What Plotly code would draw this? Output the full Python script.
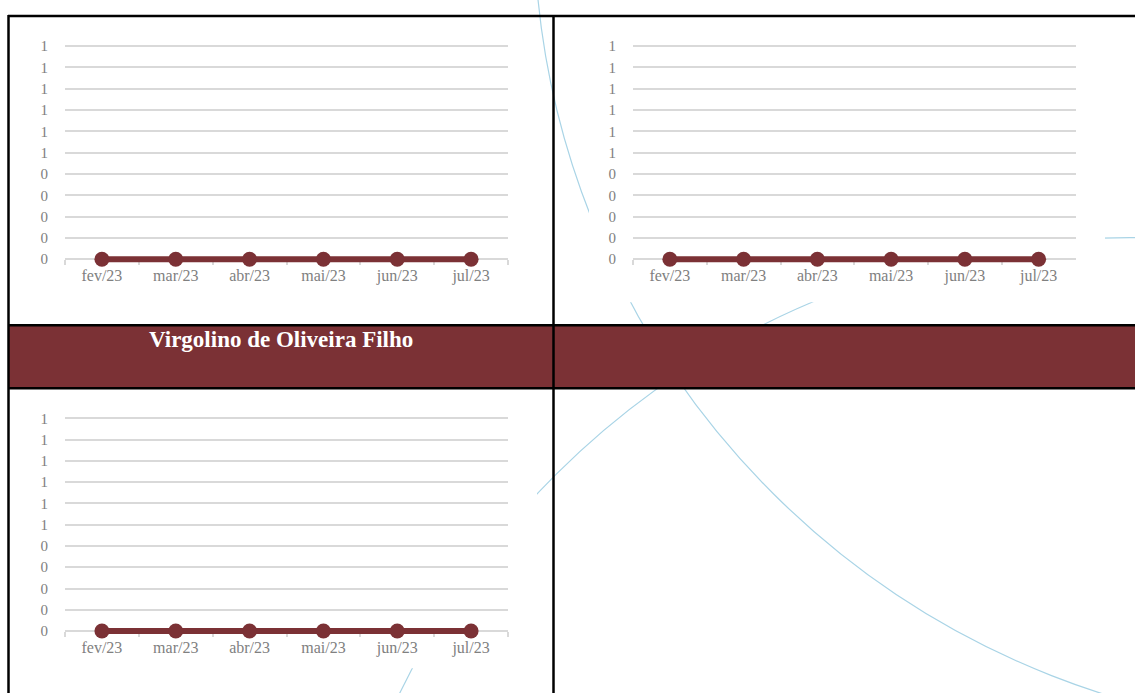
import plotly.graph_objects as go

W, H = 1135, 693

# chart data (Excel charts copied into a report table)
months = ["fev/23", "mar/23", "abr/23", "mai/23", "jun/23", "jul/23"]
serie_sup_esq = [0, 0, 0, 0, 0, 0]
serie_sup_dir = [0, 0, 0, 0, 0, 0]
serie_inf_esq = [0, 0, 0, 0, 0, 0]
y_tickvals = [0, 0.1, 0.2, 0.3, 0.4, 0.5, 0.6, 0.7, 0.8, 0.9, 1.0]
y_ticktext = ["0", "0", "0", "0", "0", "1", "1", "1", "1", "1", "1"]
banner_text = "Virgolino de Oliveira Filho"

VINHO = "#7B3135"
GRID = "#d9d9d9"
TXT = "#808080"
FONT = "Liberation Serif"


def px(x):
  return x / W


def py(y):
  return 1 - y / H


fig = go.Figure()

# (pixel box of each plot area: left, right, y of value 1, y of value 0)
charts = [
  (serie_sup_esq, (65, 508, 42.3, 256.7)),
  (serie_sup_dir, (633, 1075.5, 42.3, 256.7)),
  (serie_inf_esq, (65, 508, 416.7, 630.7)),
]

pad = 12  # extra px below zero so the thick line is not clipped
top_pad = 4  # keeps the gridline at 1 away from the plot edge
for i, (serie, (l, r, t, b)) in enumerate(charts, start=1):
  sfx = "" if i == 1 else str(i)
  unit = b - t
  fig.add_trace(go.Scatter(
    x=months, y=serie, mode="lines+markers",
    line=dict(color=VINHO, width=6),
    marker=dict(color=VINHO, size=15),
    cliponaxis=False, showlegend=False, hoverinfo="skip",
    xaxis="x" + sfx, yaxis="y" + sfx,
  ))
  fig.layout["xaxis" + sfx] = dict(
    domain=[px(l), px(r)], anchor="free", position=py(b), type="category",
    range=[-0.5, len(months) - 0.5], layer="below traces",
    showgrid=False, zeroline=False,
    showline=True, linecolor=GRID, linewidth=1.5,
    ticks="outside", tickson="boundaries", ticklen=5, tickcolor=GRID, tickwidth=1.5,
    ticklabelstandoff=2,
    tickfont=dict(family=FONT, size=16, color=TXT), fixedrange=True,
  )
  fig.layout["yaxis" + sfx] = dict(
    domain=[py(b + pad), py(t - top_pad)], anchor="x" + sfx,
    range=[-pad / unit, 1 + top_pad / unit], layer="below traces",
    tickvals=y_tickvals, ticktext=y_ticktext,
    showgrid=True, gridcolor=GRID, gridwidth=1.5, zeroline=False,
    showline=False, ticks="", ticklabelstandoff=16,
    tickfont=dict(family=FONT, size=15, color=TXT), fixedrange=True,
  )

shapes = []
# faint decorative arcs of the page background
for cx, cy, rad in [(1353, -86, 819), (1130, 1046, 811)]:
  shapes.append(dict(type="circle", xref="paper", yref="paper",
                     x0=px(cx - rad), x1=px(cx + rad), y0=py(cy + rad), y1=py(cy - rad),
                     line=dict(color="#a9d4e6", width=1.2), layer="below"))
# white chart areas hiding the arcs
for l, r, t, b in [(10, 537, 14, 320), (589, 1105, 14, 300), (10, 537, 388, 668)]:
  shapes.append(dict(type="rect", xref="paper", yref="paper",
                     x0=px(l), x1=px(r), y0=py(b), y1=py(t),
                     fillcolor="white", line=dict(width=0), layer="below"))
# banner row
shapes.append(dict(type="rect", xref="paper", yref="paper",
                   x0=px(8), x1=1, y0=py(386), y1=py(323),
                   fillcolor=VINHO, line=dict(width=0), layer="below"))
# table borders
for x0, y0, x1, y1 in [(8, 12, W, 12), (8, 323, W, 323), (8, 386.5, W, 386.5),
                       (8.5, 11, 8.5, H), (553.5, 11, 553.5, H)]:
  shapes.append(dict(type="line", xref="paper", yref="paper",
                     x0=px(x0), x1=px(x1), y0=py(y0), y1=py(y1),
                     line=dict(color="black", width=2.5), layer="below"))

fig.update_layout(
  width=W, height=H,
  margin=dict(l=0, r=0, t=0, b=0),
  paper_bgcolor="white", plot_bgcolor="rgba(0,0,0,0)",
  shapes=shapes,
  annotations=[dict(
    text=banner_text, xref="paper", yref="paper", x=px(281), y=py(337),
    showarrow=False, xanchor="center", yanchor="middle",
    font=dict(family=FONT, size=23, color="white", weight="bold"),
  )],
)

# pin the figure to the top-left corner of the page
pin = ("document.body.style.margin='0';document.body.style.overflow='hidden';"
       "var d=document.getElementById('{plot_id}');"
       "d.style.position='fixed';d.style.top='0';d.style.left='0';")
fig.write_html("out.html", config={"displayModeBar": False}, post_script=pin)
